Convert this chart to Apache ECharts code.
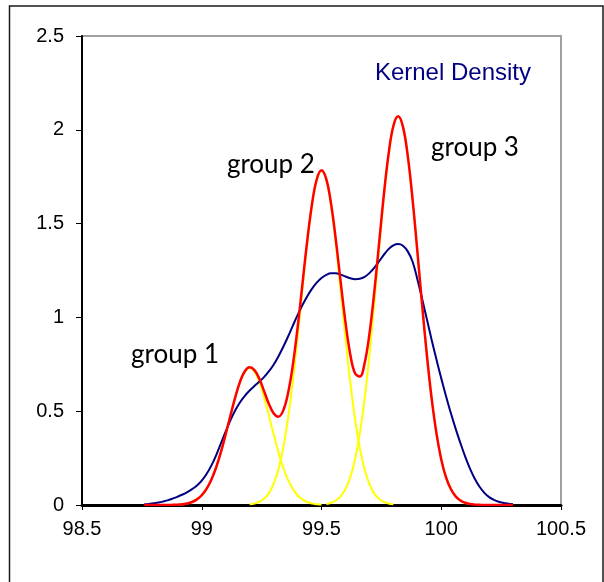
<!DOCTYPE html>
<html>
<head>
<meta charset="utf-8">
<script src="https://cdn.jsdelivr.net/npm/echarts@6/dist/echarts.min.js"></script>
<style>
  html, body { margin: 0; padding: 0; background: #fff; }
  #chart { width: 604px; height: 582px; }
</style>
</head>
<body>
<div id="chart"></div>
<script>
// Sample positions shared by every curve
const xs = [
  98.76, 98.78, 98.80, 98.82, 98.84, 98.86, 98.88, 98.90, 98.92, 98.94,
  98.96, 98.98, 99.00, 99.02, 99.04, 99.06, 99.08, 99.10, 99.12, 99.14,
  99.16, 99.18, 99.20, 99.22, 99.24, 99.26, 99.28, 99.30, 99.32, 99.34,
  99.36, 99.38, 99.40, 99.42, 99.44, 99.46, 99.48, 99.50, 99.52, 99.54,
  99.56, 99.58, 99.60, 99.62, 99.64, 99.66, 99.68, 99.70, 99.72, 99.74,
  99.76, 99.78, 99.80, 99.82, 99.84, 99.86, 99.88, 99.90, 99.92, 99.94,
  99.96, 99.98, 100.00, 100.02, 100.04, 100.06, 100.08, 100.10, 100.12, 100.14,
  100.16, 100.18, 100.20, 100.22, 100.24, 100.26, 100.28, 100.30
];

// Kernel density estimate
const kernelDensity = [
  0.004, 0.006, 0.009, 0.013, 0.019, 0.026, 0.035, 0.045, 0.056, 0.069,
  0.085, 0.104, 0.130, 0.165, 0.210, 0.265, 0.328, 0.392, 0.452, 0.505,
  0.548, 0.582, 0.610, 0.634, 0.657, 0.682, 0.712, 0.748, 0.792, 0.842,
  0.897, 0.955, 1.012, 1.065, 1.112, 1.152, 1.185, 1.210, 1.227, 1.235,
  1.235, 1.228, 1.218, 1.209, 1.204, 1.206, 1.216, 1.236, 1.264, 1.298,
  1.333, 1.364, 1.384, 1.391, 1.382, 1.352, 1.298, 1.205, 1.100, 0.990,
  0.880, 0.775, 0.675, 0.580, 0.490, 0.407, 0.330, 0.258, 0.194, 0.140,
  0.097, 0.065, 0.042, 0.027, 0.017, 0.011, 0.007, 0.004
];

// Mixture total (sum of the three groups)
const mixture = [
  0, 0, 0, 0, 0, 0, 0.001, 0.002, 0.004, 0.008,
  0.016, 0.030, 0.052, 0.086, 0.135, 0.200, 0.282, 0.377, 0.478, 0.575,
  0.658, 0.713, 0.734, 0.719, 0.674, 0.608, 0.540, 0.489, 0.471, 0.503,
  0.594, 0.743, 0.943, 1.173, 1.404, 1.601, 1.735, 1.784, 1.737, 1.605,
  1.412, 1.189, 0.976, 0.804, 0.702, 0.685, 0.756, 0.911, 1.131, 1.389,
  1.649, 1.870, 2.020, 2.072, 2.017, 1.862, 1.632, 1.356, 1.069, 0.799,
  0.567, 0.382, 0.243, 0.147, 0.085, 0.046, 0.024, 0.012, 0.005, 0.002,
  0.001, 0, 0, 0, 0, 0, 0, 0
];

// Individual group components; each starts at the given x position in xs
const group1Start = 98.90;
const group1 = [
  0.002, 0.004, 0.008, 0.016, 0.030, 0.052, 0.086, 0.135, 0.200, 0.282,
  0.377, 0.478, 0.575, 0.657, 0.711, 0.730, 0.711, 0.657, 0.575, 0.478,
  0.377, 0.282, 0.200, 0.135, 0.086, 0.052, 0.030, 0.016, 0.008, 0.004, 0.002
];
const group2Start = 99.20;
const group2 = [
  0.004, 0.008, 0.017, 0.033, 0.062, 0.112, 0.189, 0.303, 0.459, 0.657,
  0.891, 1.143, 1.388, 1.593, 1.731, 1.780, 1.731, 1.593, 1.388, 1.143,
  0.891, 0.657, 0.459, 0.303, 0.189, 0.112, 0.062, 0.033, 0.017, 0.008, 0.004
];
const group3Start = 99.52;
const group3 = [
  0.005, 0.012, 0.024, 0.046, 0.085, 0.147, 0.243, 0.382, 0.567, 0.799,
  1.069, 1.356, 1.632, 1.862, 2.016, 2.070, 2.016, 1.862, 1.632, 1.356,
  1.069, 0.799, 0.567, 0.382, 0.243, 0.147, 0.085, 0.046, 0.024, 0.012, 0.005
];

// Axis tick labels
const xTickValues = [98.5, 99, 99.5, 100, 100.5];
const xTickLabels = ['98.5', '99', '99.5', '100', '100.5'];
const yTickValues = [0, 0.5, 1, 1.5, 2, 2.5];
const yTickLabels = ['0', '0.5', '1', '1.5', '2', '2.5'];

// Text annotations, anchored in data coordinates (left edge, vertical middle)
const noteTexts = ['group 1', 'group 2', 'group 3', 'Kernel Density'];
const noteX = [98.705, 99.105, 99.957, 99.723];
const noteY = [0.80, 1.812, 1.903, 2.303];

function pairs(values, startX) {
  const offset = startX === undefined ? 0 : xs.findIndex(v => Math.abs(v - startX) < 1e-9);
  return values.map((v, j) => [xs[offset + j], v]);
}

function pickLabel(values, labels) {
  return function (v) {
    const i = values.findIndex(t => Math.abs(t - v) < 1e-9);
    return i >= 0 ? labels[i] : '';
  };
}

const axisFont = 'Liberation Sans, Arial, sans-serif';

const chart = echarts.init(document.getElementById('chart'), null, { renderer: 'canvas' });

const lineBase = { type: 'line', showSymbol: false, symbol: 'none', smooth: 0.4, silent: true, clip: true };

chart.setOption({
  animation: false,
  backgroundColor: '#ffffff',
  grid: {
    left: 82, right: 43, top: 36, bottom: 77,
    show: true, borderColor: '#a0a0a0', borderWidth: 2, backgroundColor: 'transparent'
  },
  xAxis: {
    type: 'value', min: 98.5, max: 100.5, interval: 0.5,
    axisLine: { show: true, onZero: false, lineStyle: { color: '#000', width: 3 } },
    axisTick: { show: true, inside: false, length: 5, lineStyle: { color: '#000', width: 1 } },
    splitLine: { show: false },
    axisLabel: {
      show: true, margin: 14, color: '#000', fontFamily: axisFont, fontSize: 20,
      showMinLabel: true, showMaxLabel: true,
      formatter: pickLabel(xTickValues, xTickLabels)
    }
  },
  yAxis: {
    type: 'value', min: 0, max: 2.5, interval: 0.5,
    axisLine: { show: true, onZero: false, lineStyle: { color: '#000', width: 2 } },
    axisTick: { show: true, inside: false, length: 6, lineStyle: { color: '#000', width: 1 } },
    splitLine: { show: false },
    axisLabel: {
      show: true, margin: 18, color: '#000', fontFamily: axisFont, fontSize: 20,
      showMinLabel: true, showMaxLabel: true,
      formatter: pickLabel(yTickValues, yTickLabels)
    }
  },
  series: [
    Object.assign({}, lineBase, { name: 'group 1', data: pairs(group1, group1Start), lineStyle: { color: '#ffff00', width: 2 } }),
    Object.assign({}, lineBase, { name: 'group 2', data: pairs(group2, group2Start), lineStyle: { color: '#ffff00', width: 2 } }),
    Object.assign({}, lineBase, { name: 'group 3', data: pairs(group3, group3Start), lineStyle: { color: '#ffff00', width: 2 } }),
    Object.assign({}, lineBase, { name: 'Kernel Density', data: pairs(kernelDensity), lineStyle: { color: '#000080', width: 2 } }),
    Object.assign({}, lineBase, { name: 'mixture', data: pairs(mixture), lineStyle: { color: '#ff0000', width: 2.5 } })
  ]
});

// Frame around the whole chart and the text annotations
const elements = [{
  type: 'rect', silent: true, z: 100,
  shape: { x: 9.5, y: 6, width: 593.5, height: 640 },
  style: { fill: null, stroke: '#1a1a1a', lineWidth: 1.5 }
}];
noteTexts.forEach((t, i) => {
  const p = chart.convertToPixel({ gridIndex: 0 }, [noteX[i], noteY[i]]);
  const isKernel = t === 'Kernel Density';
  elements.push({
    type: 'text', silent: true, z: 100,
    x: p[0], y: p[1],
    style: {
      text: t,
      fill: isKernel ? '#000080' : '#000',
      font: isKernel ? '24px "Liberation Sans", Arial, sans-serif' : '26px Lato, "Open Sans", sans-serif',
      textAlign: 'left', textVerticalAlign: 'middle'
    }
  });
});
chart.setOption({ graphic: elements });
</script>
</body>
</html>
